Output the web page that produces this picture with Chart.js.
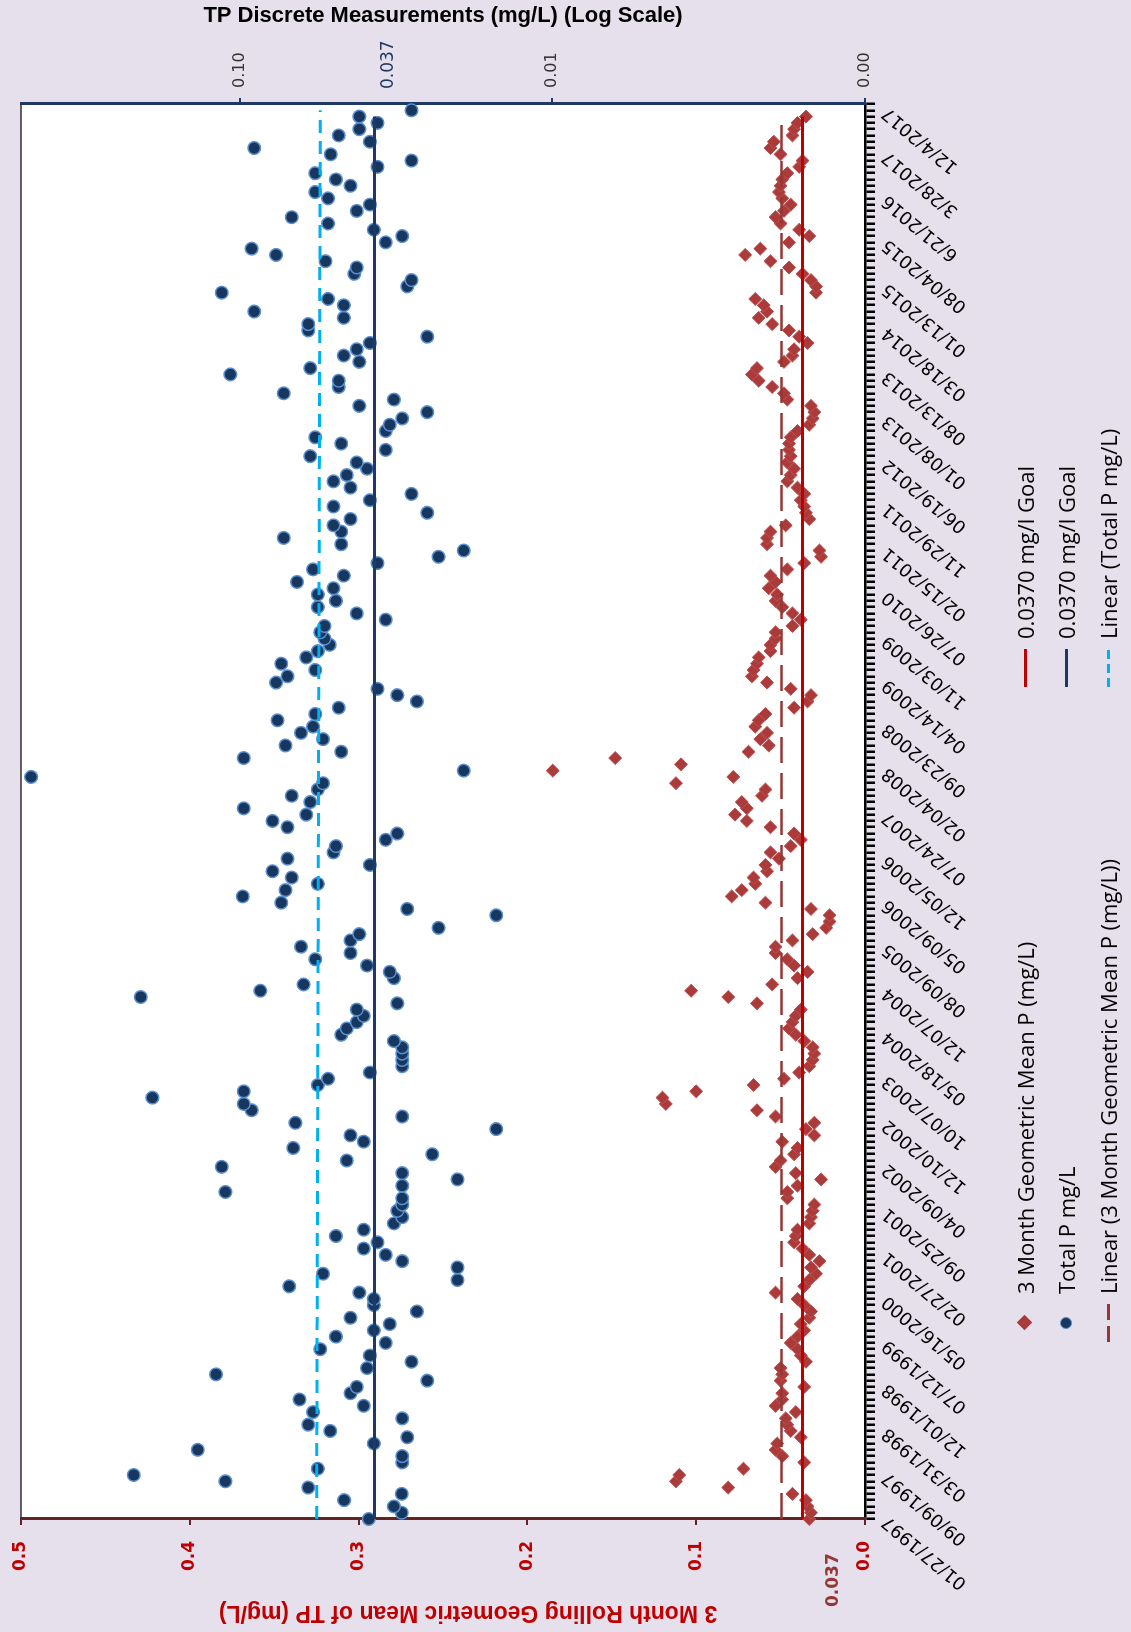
<!DOCTYPE html>
<html>
<head>
<meta charset="utf-8">
<script src="https://cdn.jsdelivr.net/npm/chart.js@4.4.0/dist/chart.umd.min.js"></script>
<style>
  html, body { margin: 0; padding: 0; }
  body { width: 1131px; height: 1632px; overflow: hidden; background: #e5e0ec; position: relative; }
  /* the chart is laid out landscape and turned a quarter turn counter-clockwise */
  #wrap { position: absolute; left: 0; top: 0; width: 1632px; height: 1131px;
          transform-origin: 0 0; transform: translateY(1632px) rotate(-90deg); }
  #chart { position: absolute; left: 0; top: 0; }
  .legText { position: absolute; font-family: 'Open Sans', sans-serif; font-size: 22px; color: #000;
             white-space: nowrap; line-height: 24px; height: 24px; }
  .swatch { position: absolute; }
</style>
</head>
<body>
<div id="wrap">
  <canvas id="chart" width="1632" height="1131"></canvas>
  <div id="legend"></div>
</div>
<script>
// tick labels shown on the date axis (every 7th sample)
const sampleDates = ['01/27/1997','09/09/1997','03/31/1998','12/01/1998','07/12/1999','05/16/2000',
  '02/27/2001','09/25/2001','04/09/2002','12/10/2002','10/07/2003','05/18/2004','12/07/2004',
  '08/09/2005','05/09/2006','12/05/2006','07/24/2007','02/04/2008','09/23/2008','04/14/2009',
  '11/03/2009','07/26/2010','02/15/2011','11/29/2011','06/19/2012','01/08/2013','08/13/2013',
  '03/18/2014','01/13/2015','08/04/2015','6/21/2016','3/28/2017','12/4/2017'];
const labelEvery = 7;

// Total P mg/L (right, log axis)
const totalP = [
  0.0386,0.0303,0.0321,0.0463,0.0303,0.0603,0.111,0.218,0.0562,0.0302,
  0.0302,0.136,0.0372,0.0291,0.0513,0.0603,0.0302,0.0582,0.0401,0.0643,
  0.0442,0.0422,0.0251,0.119,0.0391,0.0282,0.0383,0.0552,0.0341,0.0492,
  0.0372,0.0331,0.0442,0.0271,0.0372,0.0372,0.0414,0.0694,0.0201,0.0541,
  0.0201,0.0302,0.0341,0.0401,0.0362,0.0492,0.0401,0.0321,0.0302,0.0313,
  0.0302,0.0302,0.111,0.0302,0.0201,0.0302,0.114,0.0454,0.0242,0.0673,
  0.0401,0.0442,0.0151,0.0663,0.0302,0.0915,0.0970,0.190,0.0970,0.0562,
  0.0521,0.0383,0.0302,0.0302,0.0302,0.0302,0.0321,0.0473,0.0454,0.0422,
  0.0401,0.0422,0.0313,0.207,0.0858,0.0624,0.0321,0.0331,0.0391,0.0573,
  0.0442,0.0636,0.0442,0.0414,0.0231,null,0.0151,0.0291,0.0736,0.0977,
  0.0713,0.0562,0.0681,0.0785,0.0383,0.0703,0.0501,0.0492,0.0341,0.0313,
  0.0703,0.0785,0.0612,0.0970,0.0594,0.0681,0.0562,0.0541,0.464,0.0192,
  null,0.0970,0.0473,0.0713,0.0541,0.0636,0.0582,0.0756,0.0573,0.0482,
  0.0271,0.0313,0.0362,0.0764,0.0703,0.0573,0.0736,0.0612,0.0562,0.0515,
  0.0535,0.0552,0.0535,0.0341,0.0422,0.0562,0.0492,0.0562,0.0501,0.0655,
  0.0464,0.0582,0.0362,0.0231,0.0192,0.0473,0.0722,0.0473,0.0501,0.0442,
  0.0251,0.0501,0.0383,0.0282,0.0442,0.0501,0.0454,0.0391,0.0422,0.0594,
  0.0341,0.0473,0.0573,0.0341,0.0331,0.0302,0.0251,0.0414,0.0321,0.0722,
  0.0482,0.0482,0.107,0.0594,0.0414,0.0464,0.0422,0.0383,0.0251,0.0603,
  0.0603,0.0464,0.0898,0.0464,0.0521,0.114,0.0291,0.0282,0.0430,0.0422,
  0.0531,0.0764,0.0915,0.0341,0.0302,0.0372,0.0521,0.0681,0.0422,0.0383,
  0.0521,0.0573,0.0442,0.0492,0.0573,0.0362,0.0282,0.0511,0.0898,0.0383,
  0.0482,0.0414,0.0362,0.0414,0.0282];

// 3 Month Geometric Mean P (mg/L) (left, linear axis)
const geoMean = [
  0.033,0.032,0.034,0.035,0.043,0.081,0.112,0.110,0.072,0.036,
  0.049,0.053,0.052,0.038,0.044,0.046,0.047,0.041,0.053,0.049,
  0.049,0.036,0.050,0.049,0.050,0.035,0.038,0.040,0.044,0.040,
  0.036,0.038,0.033,0.032,0.036,0.040,0.053,0.036,0.033,0.029,
  0.032,0.027,0.033,0.037,0.042,0.041,0.040,0.033,0.032,0.031,
  0.030,0.046,0.046,0.040,0.026,0.041,0.053,0.050,0.042,0.040,
  0.049,0.030,0.035,0.030,0.053,0.064,0.118,0.120,0.100,0.066,
  0.048,0.039,0.033,0.031,0.030,0.031,0.036,0.041,0.045,0.043,
  0.041,0.038,0.064,0.081,0.103,0.055,0.040,0.034,0.042,0.046,
  0.053,0.053,0.043,0.031,0.023,0.021,0.021,0.032,0.059,0.079,
  0.073,0.065,0.066,0.058,0.059,0.051,0.056,0.044,0.038,0.042,
  0.056,0.070,0.077,0.070,0.073,0.061,0.059,0.112,0.078,0.185,
  0.109,0.148,0.069,0.057,0.062,0.058,0.065,0.063,0.059,0.042,
  0.034,0.032,0.044,0.058,0.067,0.066,0.064,0.063,0.056,0.056,
  0.053,0.053,0.043,0.038,0.043,0.049,0.053,0.052,0.057,0.053,
  0.056,0.046,0.036,0.026,0.027,0.058,0.058,0.056,0.047,0.033,
  0.035,0.036,0.038,0.036,0.040,0.046,0.044,0.042,0.046,0.044,
  0.045,0.045,0.044,0.040,0.033,0.031,0.030,0.032,0.046,0.048,
  0.055,0.063,0.067,0.064,0.048,0.043,0.042,0.034,0.039,0.045,
  0.055,0.063,0.058,0.060,0.065,0.029,0.029,0.032,0.037,0.045,
  0.056,0.071,0.062,0.045,0.033,0.039,0.050,0.053,0.048,0.044,
  0.049,0.051,0.050,0.049,0.046,0.039,0.037,0.050,0.056,0.054,
  0.043,0.042,0.040,0.035,null];

const goal = 0.037;                    // mg/L goal, both axes
const trendGeoMean = [0.0495, 0.0495]; // linear trend, first / last sample
const trendTotalP = [0.0567, 0.0552];  // linear trend, first / last sample
const logTicks = [0.001, 0.01, 0.1];
const leftTitle = '3 Month Rolling Geometric Mean of TP (mg/L)';

// category labels: a date every 7th sample, one spare slot at the end of the axis
const labels = totalP.map((v, i) => i % labelEvery === 0 ? sampleDates[i / labelEvery] : '');
labels.push('');

const lastIndex = arr => arr.reduce((m, v, i) => v == null ? m : i, 0);
const lastGeo = lastIndex(geoMean);
const lastTP = totalP.length - 1;
const endpoints = (n, last, a, b) => Array.from({length: n}, (_, i) => i === 0 ? a : i === last ? b : null);

// fixed axis boxes so the plot area lands where it is in the original
const fixBox = (w, h) => s => {
  if (w != null) s.width = w;
  if (h != null) s.height = h;
  s.paddingTop = 0; s.paddingBottom = 0; s.paddingLeft = 0; s.paddingRight = 0;
};

const plotFrame = {
  id: 'plotFrame',
  beforeDraw(chart) {
    const {ctx, chartArea: a} = chart;
    ctx.save();
    ctx.fillStyle = '#ffffff';
    ctx.fillRect(a.left, a.top, a.right - a.left, a.bottom - a.top);
    ctx.restore();
  },
  afterDraw(chart) {
    const {ctx, chartArea: a, scales} = chart;
    ctx.save();
    ctx.strokeStyle = '#303030';
    ctx.lineWidth = 1.5;
    ctx.beginPath();
    ctx.moveTo(a.left, a.top);
    ctx.lineTo(a.right, a.top);
    ctx.stroke();

    // goal value labels next to each axis
    ctx.textAlign = 'left';
    ctx.textBaseline = 'middle';
    ctx.fillStyle = '#1f3864';
    ctx.font = '17px "DejaVu Sans"';
    ctx.fillText(goal.toFixed(3), a.right + 15, scales.yR.getPixelForValue(goal) + 14);
    ctx.fillStyle = '#953735';
    ctx.font = 'bold 17px "DejaVu Sans"';
    ctx.fillText(goal.toFixed(3), 25, scales.yL.getPixelForValue(goal) + 31);

    // left axis title, sitting a little below the middle of the axis as in the original
    ctx.translate(20, (a.top + a.bottom) / 2 + 25);
    ctx.rotate(-Math.PI / 2);
    ctx.textAlign = 'center';
    ctx.fillStyle = '#c00000';
    ctx.font = 'bold 23px "Liberation Sans"';
    ctx.fillText(leftTitle, 0, 0);
    ctx.restore();
  }
};

new Chart(document.getElementById('chart'), {
  type: 'line',
  data: {
    labels: labels,
    datasets: [
      { label: '0.0370 mg/l Goal', yAxisID: 'yL', order: 1, spanGaps: true,
        data: endpoints(geoMean.length, lastGeo, goal, goal),
        borderColor: '#c00000', borderWidth: 3, pointRadius: 0 },
      { label: '0.0370 mg/l Goal', yAxisID: 'yR', order: 2, spanGaps: true,
        data: endpoints(totalP.length, lastGeo, goal, goal),
        borderColor: '#1f3864', borderWidth: 3, pointRadius: 0 },
      { label: 'Linear (3 Month Geometric Mean P (mg/L))', yAxisID: 'yL', order: 3, spanGaps: true,
        data: endpoints(geoMean.length, lastGeo, trendGeoMean[0], trendGeoMean[1]),
        borderColor: '#953735', borderWidth: 2.5, borderDash: [26, 10], pointRadius: 0 },
      { label: 'Linear (Total P mg/L)', yAxisID: 'yR', order: 4, spanGaps: true,
        data: endpoints(totalP.length, lastTP, trendTotalP[0], trendTotalP[1]),
        borderColor: '#00b0f0', borderWidth: 3, borderDash: [13, 8], pointRadius: 0 },
      { label: '3 Month Geometric Mean P (mg/L)', yAxisID: 'yL', order: 5, showLine: false, clip: false,
        data: geoMean, pointStyle: 'rectRot', pointRadius: 6.5,
        backgroundColor: '#ab3b3a', borderColor: '#c0504d', borderWidth: 1 },
      { label: 'Total P mg/L', yAxisID: 'yR', order: 6, showLine: false, clip: false,
        data: totalP, pointStyle: 'circle', pointRadius: 6.3,
        backgroundColor: '#17375e', borderColor: '#5b8fd0', borderWidth: 1.5 }
    ]
  },
  options: {
    responsive: false,
    animation: false,
    layout: { padding: { top: 21, left: 0, right: 0, bottom: 0 } },
    plugins: { legend: { display: false }, tooltip: { enabled: false } },
    scales: {
      x: {
        type: 'category',
        position: 'bottom',
        afterFit: fixBox(null, 266),
        border: { display: true, color: '#000', width: 2.5 },
        grid: { drawOnChartArea: false, drawTicks: true, tickLength: 10, color: '#000', lineWidth: 2.5 },
        ticks: { autoSkip: false, minRotation: 50, maxRotation: 50, padding: 3,
                 color: '#000', font: { family: 'DejaVu Sans', size: 18 } }
      },
      yL: {
        type: 'linear',
        position: 'left',
        min: 0, max: 0.5,
        afterFit: fixBox(113, null),
        border: { display: true, color: '#632523', width: 3 },
        grid: { drawOnChartArea: false, tickLength: 6, color: '#632523', lineWidth: 2 },
        ticks: { stepSize: 0.1, padding: 16, color: '#c00000',
                 font: { family: 'DejaVu Sans', size: 17, weight: 'bold' },
                 callback: v => Number(v).toFixed(1) }
      },
      yR: {
        type: 'logarithmic',
        position: 'right',
        min: 0.001, max: 0.5,
        afterFit: fixBox(104, null),
        afterBuildTicks: s => { s.ticks = logTicks.map(v => ({ value: v })); },
        border: { display: true, color: '#1f3864', width: 3 },
        grid: { drawOnChartArea: false, tickLength: 6, color: '#1f3864', lineWidth: 2 },
        ticks: { padding: 10, color: '#333', font: { family: 'DejaVu Sans', size: 16 },
                 callback: v => Number(v).toFixed(2) },
        title: { display: true, text: 'TP Discrete Measurements (mg/L) (Log Scale)', color: '#000',
                 font: { family: 'Liberation Sans', size: 22, weight: 'bold' }, padding: { top: 3, bottom: 0 } }
      }
    }
  },
  plugins: [plotFrame]
});

// legend, three rows by two columns as in the original
const legendItems = [
  { text: '3 Month Geometric Mean P (mg/L)', kind: 'diamond', color: '#ab3b3a', row: 0, col: 0 },
  { text: '0.0370 mg/l Goal', kind: 'line', color: '#c00000', row: 0, col: 1 },
  { text: 'Total P mg/L', kind: 'circle', color: '#17375e', row: 1, col: 0 },
  { text: '0.0370 mg/l Goal', kind: 'line', color: '#1f3864', row: 1, col: 1 },
  { text: 'Linear (3 Month Geometric Mean P (mg/L))', kind: 'dash', color: '#953735', row: 2, col: 0 },
  { text: 'Linear (Total P mg/L)', kind: 'dash2', color: '#00b0f0', row: 2, col: 1 }
];
const legRows = [1025, 1066, 1108];
const legCols = [290, 945];
const legend = document.getElementById('legend');
legendItems.forEach(it => {
  const x = legCols[it.col], y = legRows[it.row];
  const sw = document.createElement('div');
  sw.className = 'swatch';
  if (it.kind === 'diamond') {
    Object.assign(sw.style, { left: (x + 14) + 'px', top: (y - 6) + 'px', width: '11px', height: '11px',
      background: it.color, transform: 'rotate(45deg)' });
  } else if (it.kind === 'circle') {
    Object.assign(sw.style, { left: (x + 13) + 'px', top: (y - 6) + 'px', width: '10px', height: '10px',
      background: it.color, border: '1.5px solid #5b8fd0', borderRadius: '50%' });
  } else {
    const dash = it.kind === 'dash' ? 'repeating-linear-gradient(to right, ' + it.color + ' 0 16px, transparent 16px 22px)'
               : it.kind === 'dash2' ? 'repeating-linear-gradient(to right, ' + it.color + ' 0 9px, transparent 9px 14px)'
               : it.color;
    Object.assign(sw.style, { left: x + 'px', top: (y - 1.5) + 'px', width: '38px', height: '3px', background: dash });
  }
  legend.appendChild(sw);
  const t = document.createElement('div');
  t.className = 'legText';
  t.textContent = it.text;
  t.style.left = (x + 48) + 'px';
  t.style.top = (y - 12) + 'px';
  legend.appendChild(t);
});
</script>
</body>
</html>
